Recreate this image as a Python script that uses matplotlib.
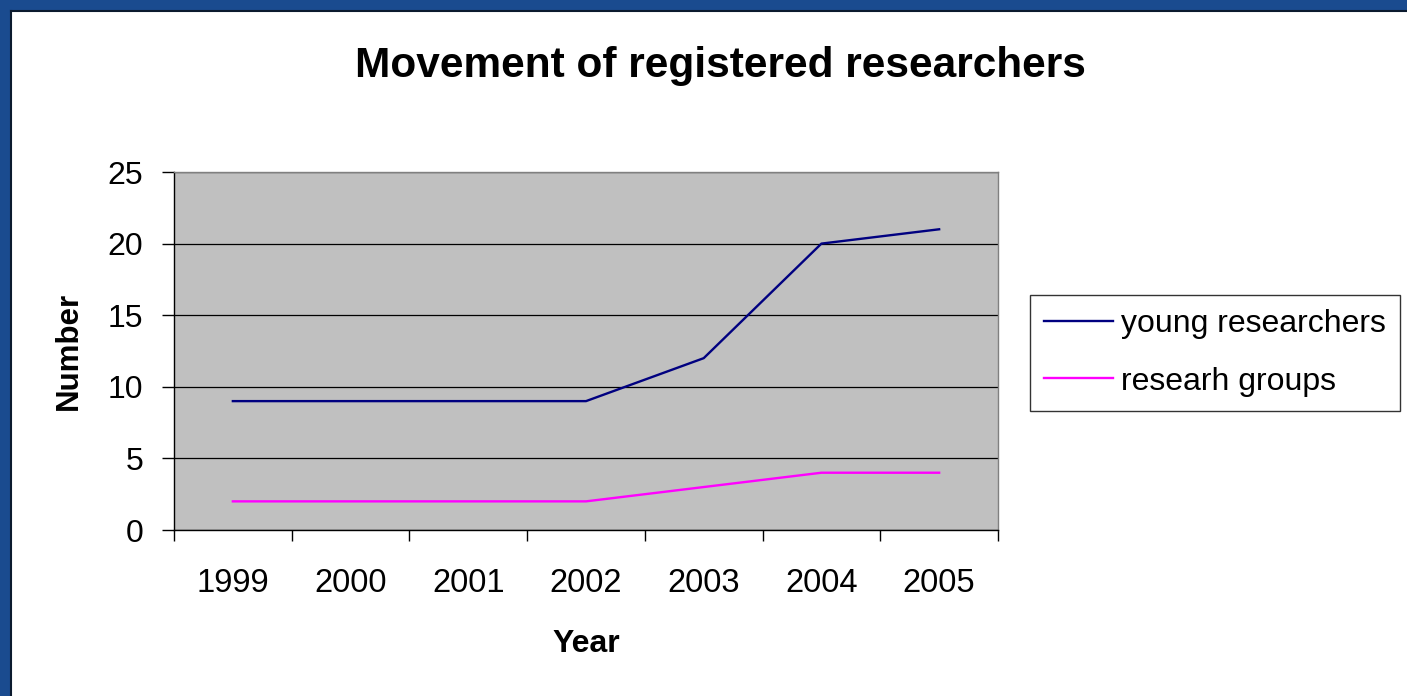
import matplotlib
matplotlib.use("Agg")
import matplotlib.pyplot as plt
from matplotlib.patches import Rectangle
from matplotlib.lines import Line2D

years = ["1999", "2000", "2001", "2002", "2003", "2004", "2005"]
young_researchers = [9, 9, 9, 9, 12, 20, 21]
research_groups = [2, 2, 2, 2, 3, 4, 4]
y_ticks = [0, 5, 10, 15, 20, 25]

plt.rcParams['font.family'] = ['Liberation Sans', 'DejaVu Sans']

W, H = 1407, 696
fig = plt.figure(figsize=(W / 100, H / 100), dpi=100)
fig.patch.set_facecolor("white")

# blue frame at top and left
border = "#1a4b8f"
fig.add_artist(Rectangle((0, 1 - 10 / H), 1, 10 / H, transform=fig.transFigure,
                         facecolor=border, edgecolor="none", zorder=0))
fig.add_artist(Rectangle((0, 0), 10 / W, 1, transform=fig.transFigure,
                         facecolor=border, edgecolor="none", zorder=0))
fig.add_artist(Line2D([10.5 / W, 1], [1 - 10.5 / H, 1 - 10.5 / H], transform=fig.transFigure,
                      color="#0b1a2e", lw=1.5))
fig.add_artist(Line2D([10.5 / W, 10.5 / W], [0, 1 - 10.5 / H], transform=fig.transFigure,
                      color="#0b1a2e", lw=1.5))

left, right, top, bottom = 174, 998, 172, 530
ax = fig.add_axes([left / W, 1 - bottom / H, (right - left) / W, (bottom - top) / H])
ax.set_facecolor("#c0c0c0")

x = list(range(len(years)))
ax.plot(x, young_researchers, color="#000080", lw=1.7, label="young researchers", zorder=3)
ax.plot(x, research_groups, color="#ff00ff", lw=1.7, label="researh groups", zorder=3)

ax.set_xlim(-0.5, len(years) - 0.5)
ax.set_ylim(0, 25)
ax.set_yticks(y_ticks)
ax.set_yticklabels([str(v) for v in y_ticks], fontsize=23)
ax.yaxis.grid(True, color="black", lw=0.9)
ax.set_axisbelow(True)

ax.set_xticks([i - 0.5 for i in range(len(years) + 1)])
ax.set_xticklabels([])
ax.set_xticks(x, minor=True)
ax.set_xticklabels(years, minor=True, fontsize=23.5)
ax.tick_params(axis="x", which="minor", length=0, pad=27)
ax.tick_params(axis="x", which="major", length=8, width=1, direction="out")
ax.tick_params(axis="y", length=9, width=1, direction="out", pad=13)

for s in ["top", "right"]:
    ax.spines[s].set_color("#808080")
    ax.spines[s].set_linewidth(1)
for s in ["left", "bottom"]:
    ax.spines[s].set_color("black")
    ax.spines[s].set_linewidth(1)

ax.set_xlabel("Year", fontsize=23, fontweight="bold", labelpad=22)
ax.set_ylabel("Number", fontsize=22.5, fontweight="bold", labelpad=17)

fig.text(720 / W, 1 - 77 / H, "Movement of registered researchers", ha="center", va="baseline",
         fontsize=30.5, fontweight="bold")

leg = fig.legend(loc="upper left", bbox_to_anchor=(1030 / W, 1 - 295 / H), fontsize=23,
                 frameon=True, fancybox=False, edgecolor="black", handlelength=2.15,
                 borderpad=0.45, labelspacing=0.85, handletextpad=0.25, borderaxespad=0)
leg.get_frame().set_linewidth(1)

fig.savefig("out.png", dpi=100)
